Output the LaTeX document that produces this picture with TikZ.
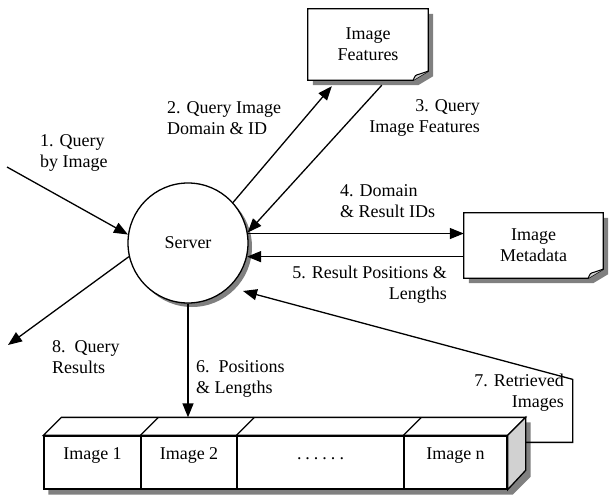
\documentclass[tikz,border=0pt]{standalone}
\usepackage{fontspec}
\setmainfont{Liberation Serif}
\usetikzlibrary{arrows.meta,calc,backgrounds,shadows}
\definecolor{shadowgray}{gray}{0.5}
\definecolor{facegray}{gray}{0.82}
\tikzset{
  lbl/.style={inner sep=0pt, font=\fontsize{18}{21}\selectfont},
  conn/.style={line width=1.3pt, -{Triangle[length=14pt,width=11pt]}},
  outline/.style={line width=1.3pt, draw=black, fill=white, line join=miter},
  shade/.style={fill=shadowgray, draw=none},
  face/.style={lbl, draw=black, fill=white, line width=1.3pt, minimum height=53pt,
               text height=12pt, text depth=18pt},
  fold/.style={line width=1pt, draw=black, fill=facegray, line join=round},
}
% note shape with a curled lower right corner, drawn round a text node
\newcommand{\notebox}[1]{%
  \fill[shade, transform canvas={shift={(5pt,-5pt)}}]
    (#1.north west) -- (#1.north east) -- ($(#1.south east)+(0,-9)$)
    -- ($(#1.south east)+(-15,0)$) -- (#1.south west) -- cycle;
  \draw[outline]
    (#1.north west) -- (#1.north east) -- ($(#1.south east)+(0,-9)$)
    -- ($(#1.south east)+(-15,0)$) -- (#1.south west) -- cycle;
  \draw[fold] ($(#1.south east)+(-15,0)$)
    .. controls ($(#1.south east)+(-13,-5)$) .. ($(#1.south east)+(-9,-6)$)
    -- ($(#1.south east)+(0,-9)$);
}
\begin{document}
\begin{tikzpicture}[x=1pt,y=-1pt]
\useasboundingbox (0,0) rectangle (611,498);

% server
\node[lbl, circle, draw=black, fill=white, line width=1.3pt, minimum size=120pt,
      drop shadow={shadow xshift=4pt, shadow yshift=-4pt, fill=shadowgray, opacity=1}]
      (server) at (188,243) {Server};

% stores
\node[lbl, minimum width=120pt, minimum height=71pt, align=center] (feat) at (368,44.5) {Image\\Features};
\node[lbl, minimum width=139pt, minimum height=65pt, align=center] (meta) at (533.5,245.5) {Image\\Metadata};

% image file: front faces
\node[face, minimum width=97pt]  (img1) at (92.5,462.5) {Image 1};
\node[face, minimum width=96pt]  (img2) at (189,462.5) {Image 2};
\node[face, minimum width=167pt] (dots) at (320.5,462.5) {.\kern4pt.\kern4pt.\kern4pt.\kern4pt.\kern4pt.};
\node[face, minimum width=103pt] (imgn) at (455.5,462.5) {Image n};

\begin{pgfonlayer}{background}
  \fill[white] (0,0) rectangle (611,498);
  \notebox{feat}
  \notebox{meta}
  % shadow of the image file
  \fill[shade, transform canvas={shift={(5pt,-5pt)}}]
    (img1.south west) -- (img1.north west) -- ++(18,-18)
    -- ($(imgn.north east)+(18,-18)$) -- ($(imgn.south east)+(18,-18)$)
    -- (imgn.south east) -- cycle;
  % top face
  \draw[outline] (img1.north west) -- ++(18,-18) -- ($(imgn.north east)+(18,-18)$)
    -- (imgn.north east) -- cycle;
  \draw[line width=1.3pt] (img2.north west) -- ++(18,-18);
  \draw[line width=1.3pt] (dots.north west) -- ++(18,-18);
  \draw[line width=1.3pt] (imgn.north west) -- ++(18,-18);
  % right face
  \draw[outline, fill=facegray] (imgn.north east) -- ++(18,-18) -- ++(0,53)
    -- (imgn.south east) -- cycle;
\end{pgfonlayer}

% connectors
\coordinate (q1) at (7,167);
\coordinate (q8) at (8,345);
\coordinate (r7) at (243,291);
\draw[conn] (q1) -- (server.172);
\draw[conn] (server.42) -- ($(feat.south west)+(24,6)$);
\draw[conn] ($(feat.south west)+(74,5)$) -- (server.10);
\draw[conn] (server.9) -- (meta.west |- server.9);
\draw[conn] (meta.west |- server.-13) -- (server.-13);
\draw[conn] (server.south) -- ($(img2.north -| server.south)+(0,-18)$);
\draw[conn] ($(imgn.north east)+(18,7)$) -- ++(47,0) -- ++(0,-63) -- (r7);
\draw[conn] (server.193) -- (q8);

% labels
\node[lbl, align=left, anchor=west]  (l1) at (40,153)   {1. Query\\by Image};
\node[lbl, align=left, anchor=west]  (l2) at (167,118)  {2. Query Image\\Domain \& ID};
\node[lbl, align=right, anchor=east] (l3) at (480,118)  {3. Query\\Image Features};
\node[lbl, align=left, anchor=west]  (l4) at (340,201)  {4. Domain\\\& Result IDs};
\node[lbl, align=right, anchor=east] (l5) at (447,285)  {5. Result Positions \&\\Lengths};
\node[lbl, align=left, anchor=west]  (l6) at (196,378.5) {6.\ \ Positions\\\& Lengths};
\node[lbl, align=right, anchor=east] (l7) at (564,393)  {7. Retrieved\\Images};
\node[lbl, align=left, anchor=west]  (l8) at (52,357)   {8.\ \ Query\\Results};
\end{tikzpicture}
\end{document}
